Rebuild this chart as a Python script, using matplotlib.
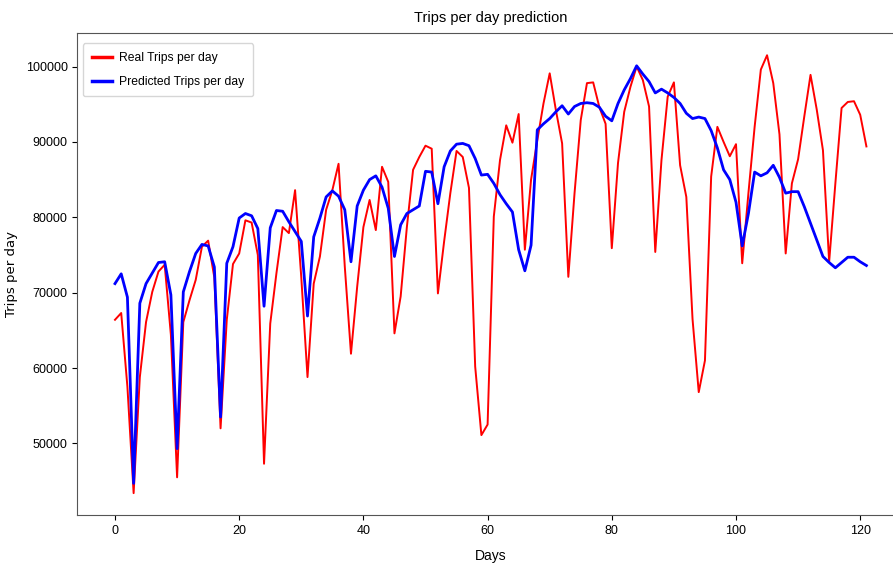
import matplotlib
matplotlib.use("Agg")
import matplotlib.pyplot as plt

days = list(range(122))

real_trips = [
    66400, 67300, 57500, 43400, 58800, 66100, 70100, 72800, 73700, 64400,
    45500, 66100, 69000, 71700, 76100, 76900, 72000, 52000, 66400, 73800,
    75200, 79600, 79300, 75000, 47300, 65900, 72600, 78700, 77900, 83600,
    72000, 58800, 71200, 74800, 81000, 83600, 87100, 73500, 61900, 70800,
    78700, 82300, 78300, 86700, 84700, 64600, 69500, 78700, 86300, 88000,
    89500, 89100, 69900, 76800, 83200, 88800, 88000, 83900, 60200, 51100,
    52500, 80100, 87600, 92200, 89900, 93700, 75700, 85000, 90200, 95100,
    99100, 94200, 89800, 72100, 83200, 92900, 97800, 97900, 94600, 92400,
    75900, 87200, 94000, 97300, 100000, 98200, 94700, 75400, 87600, 96000,
    97900, 86900, 82700, 66500, 56800, 61000, 85400, 92000, 90000, 88100,
    89700, 73900, 83200, 92000, 99600, 101500, 97800, 91000, 75200, 84500,
    87700, 93400, 98900, 94300, 88900, 74100, 84500, 94500, 95300, 95400,
    93600, 89400,
]

predicted_trips = [
    71200, 72500, 69400, 44700, 68600, 71200, 72600, 74000, 74100, 69700,
    49300, 70100, 72800, 75200, 76400, 76200, 73400, 53500, 73900, 76100,
    79900, 80500, 80200, 78500, 68200, 78600, 80900, 80800, 79400, 78100,
    76800, 66900, 77400, 79900, 82700, 83500, 82800, 81000, 74100, 81500,
    83600, 85000, 85500, 84000, 81200, 74800, 79000, 80500, 81000, 81500,
    86100, 86000, 81800, 86700, 88800, 89700, 89800, 89500, 87800, 85600,
    85700, 84500, 83000, 81800, 80700, 75700, 72900, 76300, 91600, 92400,
    93100, 94000, 94800, 93700, 94700, 95100, 95200, 95100, 94600, 93400,
    92800, 95100, 96900, 98400, 100100, 99000, 98000, 96500, 97000, 96500,
    95900, 95100, 93800, 93100, 93300, 93100, 91500, 89200, 86300, 85000,
    82000, 76200, 80500, 86000, 85500, 85900, 86900, 85300, 83200, 83400,
    83400, 81400, 79200, 77000, 74800, 74000, 73300, 74000, 74700, 74700,
    74100, 73600,
]

narrow = ["Liberation Sans", "DejaVu Sans"]

fig = plt.figure(figsize=(8.93, 5.71), dpi=100)
ax = fig.add_axes([0.0867, 0.098, 0.9256, 0.8436])

ax.plot(days, real_trips, color="red", lw=1.4, label="Real Trips per day")
ax.plot(days, predicted_trips, color="blue", lw=2.0, label="Predicted Trips per day")

ax.set_title("Trips per day prediction", family=narrow, fontsize=10.5, pad=8)
ax.set_xlabel("Days", family=narrow, fontsize=10, labelpad=9)
ax.set_ylabel("Trips per day", family=["DejaVu Sans"], fontsize=9.5)
ax.yaxis.set_label_coords(-0.072, 0.5)

ax.set_xticks([0, 20, 40, 60, 80, 100, 120])
ax.set_yticks([50000, 60000, 70000, 80000, 90000, 100000])
for lab in ax.get_xticklabels() + ax.get_yticklabels():
    lab.set_family(narrow)
    lab.set_fontsize(9)

for s in ax.spines.values():
    s.set_color("#555555")

leg = ax.legend(loc="upper left", bbox_to_anchor=(0.0068, 0.979),
                borderaxespad=0, prop={"family": narrow, "size": 8.7},
                handlelength=1.7, handletextpad=0.6, labelspacing=1.0,
                borderpad=0.7)
for h in leg.get_lines():
    h.set_linewidth(2.5)

fig.savefig("out.png", dpi=100)
